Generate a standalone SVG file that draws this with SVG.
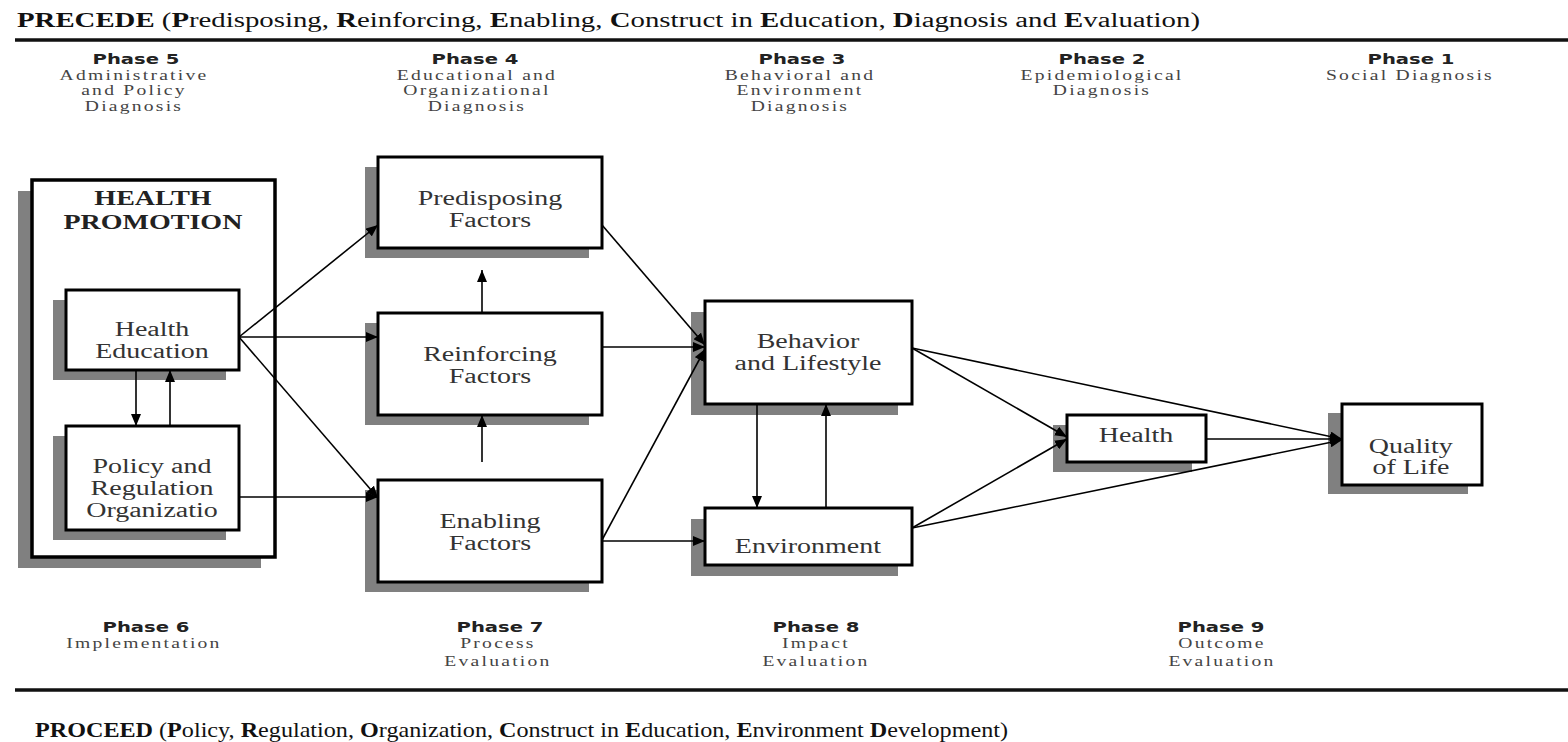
<svg xmlns="http://www.w3.org/2000/svg" width="1568" height="742" viewBox="0 0 1568 742">
<defs>
<marker id="ah" markerUnits="userSpaceOnUse" markerWidth="12" markerHeight="10" refX="12" refY="5" orient="auto">
<path d="M0,0 L12,5 L0,10 z" fill="#000"/>
</marker>
</defs>
<style>
.bg{fill:#fff}
.shadow{fill:#808080}
.box{fill:#fff;stroke:#000;stroke-width:3}
.outer{fill:#fff;stroke:#000;stroke-width:3.5}
.sx{transform-box:fill-box;transform-origin:center;transform:scaleX(1.4)}
.bt{font-family:"Liberation Serif","Times New Roman",serif;font-size:20px;fill:#333;text-anchor:middle}
.hp{font-family:"Liberation Serif","Times New Roman",serif;font-size:20px;font-weight:bold;fill:#222;text-anchor:middle}
.ph{font-family:"DejaVu Sans","Liberation Sans",sans-serif;font-size:14px;font-weight:bold;fill:#222;text-anchor:middle}
.pd{font-family:"Liberation Serif","Times New Roman",serif;font-size:14px;letter-spacing:1.6px;fill:#444;text-anchor:middle}
.title{font-family:"Liberation Serif","Times New Roman",serif;font-size:20px;fill:#111}
.title2{font-family:"Liberation Serif","Times New Roman",serif;font-size:21px;fill:#111}
.b{font-weight:bold}
.rule{stroke:#111;stroke-width:3.5}
.conn{fill:none;stroke:#000;stroke-width:1.6}
.arr{marker-end:url(#ah)}
</style>
<rect class="bg" x="0" y="0" width="1568" height="742"/>

<g id="header">
<text class="title" x="17" y="27" textLength="1183" lengthAdjust="spacingAndGlyphs"><tspan class="b">PRECEDE</tspan> (<tspan class="b">P</tspan>redisposing, <tspan class="b">R</tspan>einforcing, <tspan class="b">E</tspan>nabling, <tspan class="b">C</tspan>onstruct in <tspan class="b">E</tspan>ducation, <tspan class="b">D</tspan>iagnosis and <tspan class="b">E</tspan>valuation)</text>
<line class="rule" x1="15" y1="40" x2="1568" y2="40"/>
</g>

<g id="phases-top">
<text class="ph sx" x="136" y="64">Phase 5</text>
<text class="pd sx" x="134" y="80">Administrative</text>
<text class="pd sx" x="134" y="95">and Policy</text>
<text class="pd sx" x="134" y="111">Diagnosis</text>
<text class="ph sx" x="475" y="64">Phase 4</text>
<text class="pd sx" x="477" y="80">Educational and</text>
<text class="pd sx" x="477" y="95">Organizational</text>
<text class="pd sx" x="477" y="111">Diagnosis</text>
<text class="ph sx" x="802" y="64">Phase 3</text>
<text class="pd sx" x="800" y="80">Behavioral and</text>
<text class="pd sx" x="800" y="95">Environment</text>
<text class="pd sx" x="800" y="111">Diagnosis</text>
<text class="ph sx" x="1102" y="64">Phase 2</text>
<text class="pd sx" x="1102" y="80">Epidemiological</text>
<text class="pd sx" x="1102" y="95">Diagnosis</text>
<text class="ph sx" x="1411" y="64">Phase 1</text>
<text class="pd sx" x="1410" y="80">Social Diagnosis</text>
</g>

<g id="health-promotion">
<rect class="shadow" x="18" y="191" width="243" height="377"/>
<rect class="outer" x="32" y="180" width="243" height="377"/>
<text class="hp sx" x="153" y="205">HEALTH</text>
<text class="hp sx" x="153" y="229">PROMOTION</text>
</g>

<g id="health-education">
<rect class="shadow" x="53" y="300" width="173" height="80"/>
<rect class="box" x="66" y="290" width="173" height="80"/>
<text class="bt sx" x="152" y="336">Health</text>
<text class="bt sx" x="152" y="358">Education</text>
</g>

<g id="policy">
<rect class="shadow" x="53" y="436" width="173" height="104"/>
<rect class="box" x="66" y="426" width="173" height="104"/>
<text class="bt sx" x="152" y="473">Policy and</text>
<text class="bt sx" x="152" y="495">Regulation</text>
<text class="bt sx" x="152" y="517">Organizatio</text>
</g>

<g id="predisposing">
<rect class="shadow" x="365" y="167" width="224" height="91"/>
<rect class="box" x="378" y="157" width="224" height="91"/>
<text class="bt sx" x="490" y="205">Predisposing</text>
<text class="bt sx" x="490" y="227">Factors</text>
</g>

<g id="reinforcing">
<rect class="shadow" x="365" y="323" width="224" height="102"/>
<rect class="box" x="378" y="313" width="224" height="102"/>
<text class="bt sx" x="490" y="361">Reinforcing</text>
<text class="bt sx" x="490" y="383">Factors</text>
</g>

<g id="enabling">
<rect class="shadow" x="365" y="490" width="224" height="102"/>
<rect class="box" x="378" y="480" width="224" height="102"/>
<text class="bt sx" x="490" y="528">Enabling</text>
<text class="bt sx" x="490" y="550">Factors</text>
</g>

<g id="behavior">
<rect class="shadow" x="691" y="312" width="207" height="103"/>
<rect class="box" x="705" y="301" width="207" height="103"/>
<text class="bt sx" x="808" y="348">Behavior</text>
<text class="bt sx" x="808" y="370">and Lifestyle</text>
</g>

<g id="environment">
<rect class="shadow" x="691" y="519" width="207" height="57"/>
<rect class="box" x="705" y="508" width="207" height="57"/>
<text class="bt sx" x="808" y="553">Environment</text>
</g>

<g id="health">
<rect class="shadow" x="1053" y="425" width="139" height="47"/>
<rect class="box" x="1067" y="415" width="139" height="47"/>
<text class="bt sx" x="1136" y="442">Health</text>
</g>

<g id="quality-of-life">
<rect class="shadow" x="1328" y="413" width="140" height="81"/>
<rect class="box" x="1342" y="404" width="140" height="81"/>
<text class="bt sx" x="1411" y="453">Quality</text>
<text class="bt sx" x="1411" y="474">of Life</text>
</g>

<g id="connectors">
<path class="conn arr" d="M239,337 L378,225"/>
<path class="conn arr" d="M239,337 L378,337"/>
<path class="conn arr" d="M239,337 L378,498"/>
<path class="conn arr" d="M239,497 L378,497"/>
<path class="conn arr" d="M136,370 L136,426"/>
<path class="conn arr" d="M170,426 L170,370"/>
<path class="conn arr" d="M482,313 L482,270"/>
<path class="conn arr" d="M482,462 L482,415"/>
<path class="conn arr" d="M602,225 L705,345"/>
<path class="conn arr" d="M602,347 L705,347"/>
<path class="conn arr" d="M602,540 L705,349"/>
<path class="conn arr" d="M602,541 L705,541"/>
<path class="conn arr" d="M757,404 L757,508"/>
<path class="conn arr" d="M826,508 L826,404"/>
<path class="conn arr" d="M912,348 L1067,437"/>
<path class="conn arr" d="M912,348 L1342,439"/>
<path class="conn arr" d="M912,528 L1067,439"/>
<path class="conn arr" d="M912,528 L1342,440"/>
<path class="conn arr" d="M1206,439 L1342,439"/>
</g>

<g id="phases-bottom">
<text class="ph sx" x="146" y="632">Phase 6</text>
<text class="pd sx" x="144" y="648">Implementation</text>
<text class="ph sx" x="500" y="632">Phase 7</text>
<text class="pd sx" x="498" y="648">Process</text>
<text class="pd sx" x="498" y="666">Evaluation</text>
<text class="ph sx" x="816" y="632">Phase 8</text>
<text class="pd sx" x="816" y="648">Impact</text>
<text class="pd sx" x="816" y="666">Evaluation</text>
<text class="ph sx" x="1221" y="632">Phase 9</text>
<text class="pd sx" x="1222" y="648">Outcome</text>
<text class="pd sx" x="1222" y="666">Evaluation</text>
</g>

<g id="footer">
<line class="rule" x1="15" y1="690" x2="1568" y2="690"/>
<text class="title2" x="35" y="737" textLength="973" lengthAdjust="spacingAndGlyphs"><tspan class="b">PROCEED</tspan> (<tspan class="b">P</tspan>olicy, <tspan class="b">R</tspan>egulation, <tspan class="b">O</tspan>rganization, <tspan class="b">C</tspan>onstruct in <tspan class="b">E</tspan>ducation, <tspan class="b">E</tspan>nvironment <tspan class="b">D</tspan>evelopment)</text>
</g>
</svg>
